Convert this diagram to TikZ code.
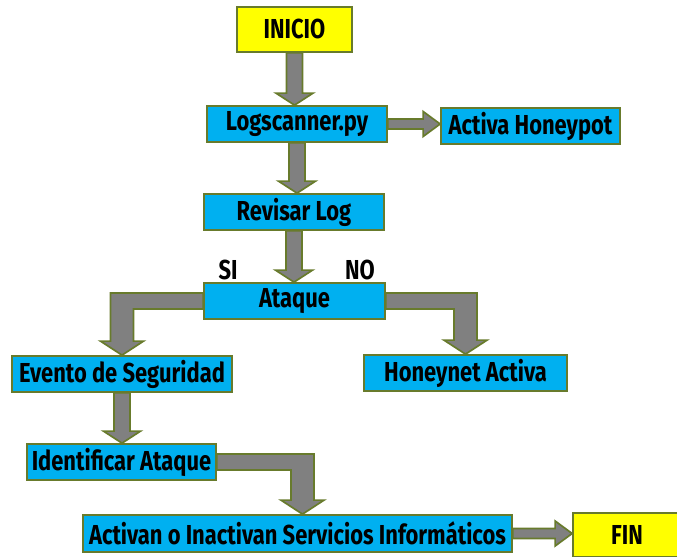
\documentclass[tikz,border=0pt]{standalone}
\usepackage{fontspec}
\setmainfont{Fira Sans}[FakeStretch=0.8]
\usetikzlibrary{calc}

\definecolor{boxblue}{HTML}{00B0F0}
\definecolor{boxyellow}{HTML}{FFFF00}
\definecolor{arrowgray}{HTML}{808080}
\definecolor{edgeolive}{HTML}{687B2C}

% Block arrows between boxes
\newcommand{\downblock}[2]{%
	\draw [blockarrow] ($(#1.south)+(-8,0)$) -- ($(#1.south |- #2.north)+(-8,-12)$) -- ($(#1.south |- #2.north)+(-18.5,-12)$) -- (#1.south |- #2.north) -- ($(#1.south |- #2.north)+(18.5,-12)$) -- ($(#1.south |- #2.north)+(8,-12)$) -- ($(#1.south)+(8,0)$) -- cycle;}
\newcommand{\rightblock}[2]{%
	\draw [blockarrow] ($(#1.east)+(0,-5)$) -- ($(#2.west |- #1.east)+(-17,-5)$) -- ($(#2.west |- #1.east)+(-17,-12.5)$) -- (#2.west |- #1.east) -- ($(#2.west |- #1.east)+(-17,12.5)$) -- ($(#2.west |- #1.east)+(-17,5)$) -- ($(#1.east)+(0,5)$) -- cycle;}
\newcommand{\elbowblock}[3]{%
	\draw [blockarrow] ($(#1)+(0,-8)$) -- ($(#2 |- #1)+({#3*11.5},-8)$) -- ($(#2)+({#3*11.5},-14)$) -- ($(#2)+({#3*21.5},-14)$) -- (#2) -- ($(#2)+({-(#3)*21.5},-14)$) -- ($(#2)+({-(#3)*11.5},-14)$) -- ($(#2 |- #1)+({-(#3)*11.5},8)$) -- ($(#1)+(0,8)$) -- cycle;}

\begin{document}
\begin{tikzpicture}[x = 0.025cm, y = -0.025cm,
	box/.style = {draw = edgeolive, line width = 1.2pt, fill = boxblue, inner sep = 0pt, minimum height = 0.9cm, font = \bfseries\fontsize{19.5}{22}\selectfont},
	terminal/.style = {box, fill = boxyellow},
	blockarrow/.style = {draw = edgeolive, line width = 1.2pt, fill = arrowgray, line join = miter},
	answer/.style = {font = \bfseries\fontsize{19.5}{22}\selectfont}]

	\useasboundingbox (0, 0) rectangle (677, 557);

	% Boxes

	\node [terminal, minimum width = 2.875cm, minimum height = 1.125cm] (inicio) at (294.5, 29.5) {INICIO};
	\node [box, minimum width = 4.5cm] (logscan) at (297, 124) {Logscanner.py};
	\node [box, minimum width = 4.475cm] (honeypot) at (530.5, 126) {Activa Honeypot};
	\node [box, minimum width = 4.5cm] (revisar) at (294, 212) {Revisar Log};
	\node [box, minimum width = 4.525cm] (ataque) at (294.5, 301) {Ataque};
	\node [box, minimum width = 5.5cm] (evento) at (122, 374) {Evento de Seguridad};
	\node [box, minimum width = 5.075cm] (honeynet) at (465.5, 373) {Honeynet Activa};
	\node [box, minimum width = 4.725cm] (identificar) at (121.5, 462) {Identificar Ataque};
	\node [box, minimum width = 10.725cm, minimum height = 0.925cm] (activan) at (297.5, 533.5) {Activan o Inactivan Servicios Informáticos};
	\node [terminal, minimum width = 2.7cm, minimum height = 1.1cm] (fin) at (627, 535) {FIN};

	% Answers

	\node [answer] (si) at (228, 270) {SI};
	\node [answer] (no) at (360, 270) {NO};

	% Arrows

	\foreach \a/\b in {inicio/logscan, logscan/revisar, revisar/ataque, evento/identificar}
		\downblock{\a}{\b};

	\rightblock{logscan}{honeypot}
	\rightblock{activan}{fin}

	\elbowblock{ataque.west}{evento.north}{-1}
	\elbowblock{ataque.east}{honeynet.north}{1}
	\coordinate (activantop) at ($(activan.north)+(5, 0)$);
	\elbowblock{identificar.east}{activantop}{1}

\end{tikzpicture}
\end{document}
